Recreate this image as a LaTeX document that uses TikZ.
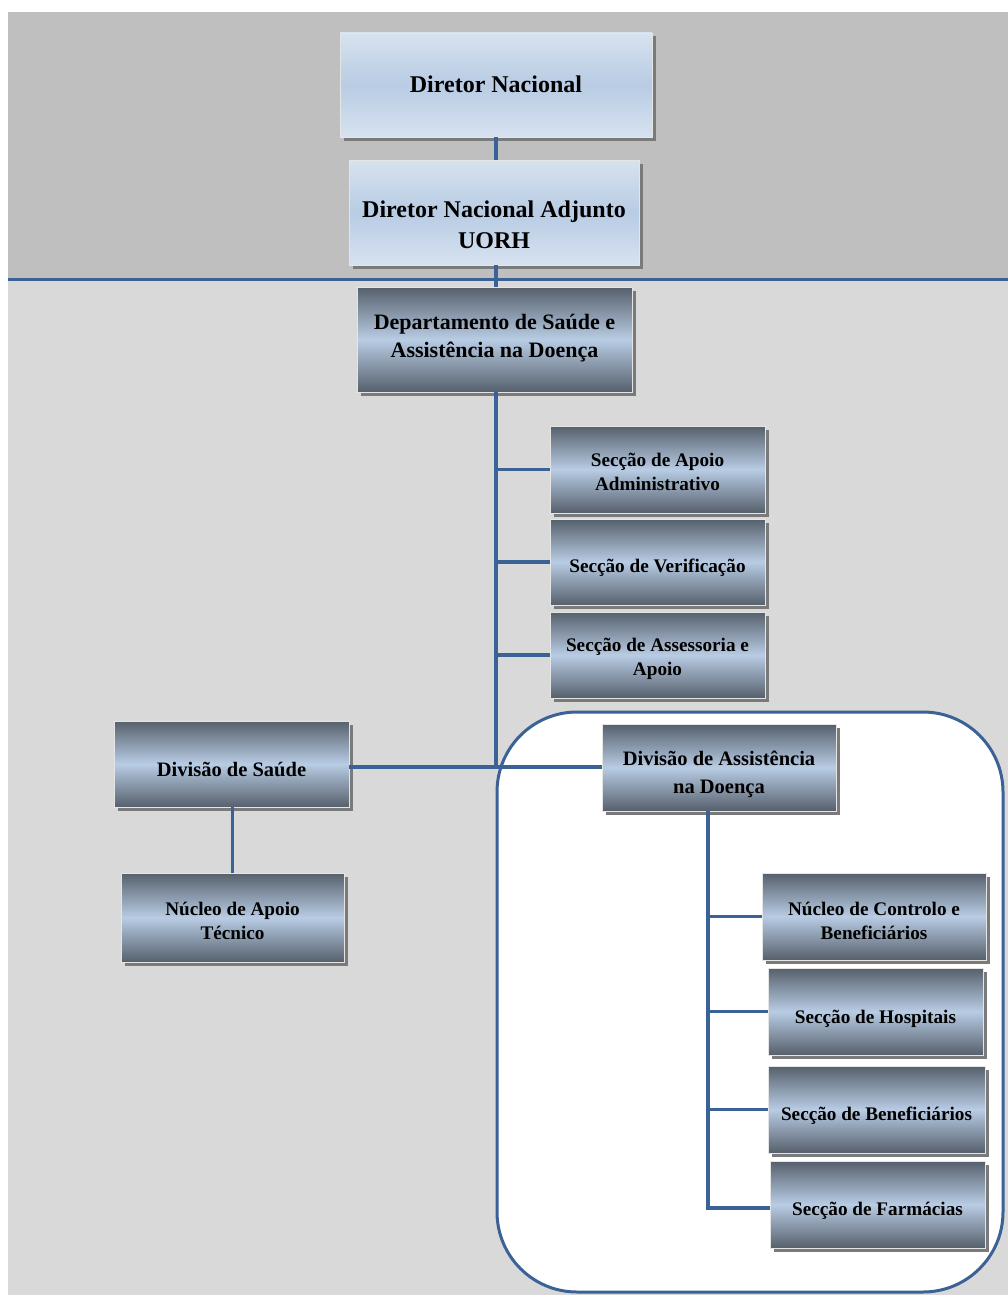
\documentclass[tikz,border=0pt]{standalone}
\usepackage{fontspec}
\setmainfont{Liberation Serif}
\usetikzlibrary{shadows}
\definecolor{linkblue}{HTML}{3B6296}
\definecolor{topgrey}{HTML}{BFBFBF}
\definecolor{lowgrey}{HTML}{D9D9D9}
\definecolor{lighttop}{HTML}{D7E2EF}
\definecolor{lightmid}{HTML}{B8CCE4}
\definecolor{darkedge}{HTML}{56606C}
\definecolor{shadowgrey}{HTML}{7A7A7A}
\newcommand{\boxlines}[2]{\raisebox{#1}[\height][\depth]{\begin{tabular}{@{}c@{}}#2\end{tabular}}}
\tikzset{
  basebox/.style={rectangle, inner sep=2pt, font=\bfseries,
    draw=white!80!gray, line width=0.4pt,
    drop shadow={shadow xshift=3.5pt, shadow yshift=-3.5pt, fill=shadowgrey, opacity=1}},
  lightbox/.style={basebox, top color=lighttop, bottom color=lighttop, middle color=lightmid},
  darkbox/.style={basebox, top color=darkedge, bottom color=darkedge, middle color=lightmid},
  bigtxt/.style={font=\bfseries\fontsize{24}{31}\selectfont},
  depttxt/.style={font=\bfseries\fontsize{22}{28}\selectfont},
  midtxt/.style={font=\bfseries\fontsize{20.5}{28}\selectfont},
  smalltxt/.style={font=\bfseries\fontsize{19.2}{24}\selectfont},
  link/.style={draw=linkblue, line width=3.5pt},
}
\begin{document}
\begin{tikzpicture}[x=1pt, y=-1pt]
  % background
  \fill[white] (0,0) rectangle (1008,1295);
  \useasboundingbox (0,0) rectangle (1008,1295);
  \fill[topgrey] (8,12) rectangle (1008,279);
  \fill[lowgrey] (8,279) rectangle (1008,1295);
  \draw[linkblue, line width=3pt] (8,279) -- (1008,279);

  % group frame
  \node[draw=linkblue, line width=3pt, fill=white, rounded corners=80pt,
        minimum width=506pt, minimum height=580pt, inner sep=0pt] (grp) at (750,1002) {};

  % nodes
  \node[lightbox, bigtxt, minimum width=312pt, minimum height=104pt] (dn) at (496,85) {\boxlines{-1pt}{Diretor Nacional}};
  \node[lightbox, bigtxt, minimum width=290pt, minimum height=105pt] (dna) at (494,212.5) {\boxlines{-14pt}{Diretor Nacional Adjunto\\UORH}};
  \node[darkbox, depttxt, minimum width=275pt, minimum height=105pt] (dept) at (494.5,339.5) {\boxlines{2pt}{Departamento de Saúde e\\Assistência na Doença}};
  \node[darkbox, smalltxt, minimum width=215pt, minimum height=87pt] (saa) at (657.5,469.5) {\boxlines{-4pt}{Secção de Apoio\\Administrativo}};
  \node[darkbox, smalltxt, minimum width=215pt, minimum height=86pt] (sv) at (657.5,562) {\boxlines{-6pt}{Secção de Verificação}};
  \node[darkbox, smalltxt, minimum width=215pt, minimum height=86pt] (saap) at (657.5,655) {\boxlines{-4pt}{Secção de Assessoria e\\Apoio}};
  \node[darkbox, midtxt, minimum width=235pt, minimum height=86pt] (ds) at (231.5,764) {\boxlines{-7pt}{Divisão de Saúde}};
  \node[darkbox, smalltxt, minimum width=223pt, minimum height=89pt] (nat) at (232.5,917.5) {\boxlines{-5pt}{Núcleo de Apoio\\Técnico}};
  \node[darkbox, midtxt, minimum width=234pt, minimum height=87pt] (dad) at (719,767.5) {\boxlines{-6pt}{Divisão de Assistência\\na Doença}};
  \node[darkbox, smalltxt, minimum width=224pt, minimum height=87pt] (ncb) at (874,916.5) {\boxlines{-6pt}{Núcleo de Controlo e\\Beneficiários}};
  \node[darkbox, smalltxt, minimum width=215pt, minimum height=87pt] (sh) at (875.5,1011.5) {\boxlines{-7pt}{Secção de Hospitais}};
  \node[darkbox, smalltxt, minimum width=217pt, minimum height=87pt] (sb) at (876.5,1109.5) {\boxlines{-6pt}{Secção de Beneficiários}};
  \node[darkbox, smalltxt, minimum width=215pt, minimum height=87pt] (sf) at (877.5,1204.5) {\boxlines{-6pt}{Secção de Farmácias}};

  % junction coordinates
  \coordinate (tr) at (496,767);
  \coordinate (dt) at (708,1208);

  % connectors
  \draw[link] (dn.south -| tr) -- (dna.north -| tr);
  \draw[link] (dna.south -| tr) -- (dept.north -| tr);
  \draw[link] (dept.south -| tr) -- (tr);
  \draw[link] (tr |- saa.west) -- (saa.west);
  \draw[link] (tr |- sv.west) -- (sv.west);
  \draw[link] (tr |- saap.west) -- (saap.west);
  \draw[link] (ds.east |- tr) -- (dad.west |- tr);
  \draw[link] (ds.south -| nat.north) -- (nat.north);
  \draw[link] (dad.south -| dt) -- (dt) -- (sf.west |- dt);
  \draw[link] (dt |- ncb.west) -- (ncb.west);
  \draw[link] (dt |- sh.west) -- (sh.west);
  \draw[link] (dt |- sb.west) -- (sb.west);
\end{tikzpicture}
\end{document}
